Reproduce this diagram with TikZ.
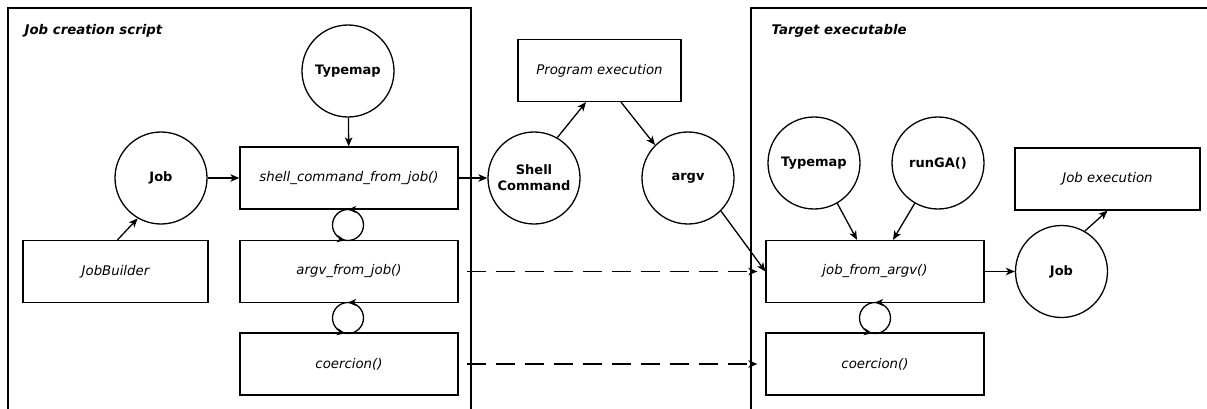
\documentclass[tikz,border=0pt]{standalone}
\usepackage{fontspec}
\setmainfont{DejaVu Sans}
\usetikzlibrary{arrows.meta,decorations.markings}
\begin{document}
\begin{tikzpicture}[x=1pt,y=-1pt,
  line width=1.3pt,
  tip/.style={-{Stealth[length=9pt,width=7.5pt,inset=2.5pt]}},
  fn/.style={draw,rectangle,minimum width=218pt,minimum height=62pt,inner sep=0pt,font=\fontsize{13.3}{15}\selectfont\itshape},
  obj/.style={draw,circle,minimum size=92pt,inner sep=0pt,align=center,font=\fontsize{13}{16}\selectfont\bfseries},
  ttl/.style={anchor=west,inner sep=0pt,font=\fontsize{13.3}{15}\selectfont\bfseries\itshape},
  dashline/.style={dash pattern=on 19pt off 10pt},
  loopc/.style={draw,circle,minimum size=31pt,inner sep=0pt,
    postaction={decorate,decoration={markings,
      mark=at position 0.25 with {\arrow{Stealth[length=8pt,width=7pt,inset=2pt]}},
      mark=at position 0.72 with {\arrow{Stealth[length=8pt,width=7pt,inset=2pt]}}}}}
]
\useasboundingbox (0,0) rectangle (1207,409);
% containers
\draw (8,409) -- (8,8) -- (471,8) -- (471,409);
\draw (751,409) -- (751,8) -- (1207,8);
\node[ttl] (t1) at (24,31) {Job creation script};
\node[ttl] (t2) at (771,31) {Target executable};
% left side
\node[obj] (tm1) at (348,71) {Typemap};
\node[fn] (shell) at (349,178) {shell\_command\_from\_job()};
\node[obj] (job1) at (161,178) {Job};
\node[fn,minimum width=185pt] (jb) at (115.5,271.5) {JobBuilder};
\node[fn] (afj) at (349,271.5) {argv\_from\_job()};
\node[fn] (co1) at (349,364) {coercion()};
\node[loopc] (l1) at (348,225) {};
\node[loopc] (l2) at (348,318) {};
\draw[tip] (tm1) -- (shell);
\draw[tip] (job1.east) -- (shell.west |- job1.east);
\draw[tip] (jb.north) ++(2,0) coordinate (jbn) -- (job1.-120);
% middle
\node[obj] (sc) at (534,178) {Shell\\Command};
\node[fn,minimum width=163pt] (pe) at (599.5,70.5) {Program execution};
\node[obj] (argv) at (688,178) {argv};
\draw[tip] (shell.east) -- (sc.west);
\draw[tip] (sc.60) -- (pe.south -| 586,0);
\draw[tip] (pe.south -| 621,0) -- (argv.135);
% right side
\node[obj] (tm2) at (814,163) {Typemap};
\node[obj] (ga) at (938,163) {runGA()};
\node[fn] (jfa) at (875,271.5) {job\_from\_argv()};
\node[fn] (co2) at (875,364) {coercion()};
\node[obj] (job2) at (1061.5,271.5) {Job};
\node[fn,minimum width=185pt] (je) at (1107.5,179) {Job execution};
\node[loopc] (l3) at (875,318) {};
\draw[tip] (tm2.-60) -- (jfa.north -| 857,0);
\draw[tip] (ga.-120) -- (jfa.north -| 893,0);
\draw[tip] (argv.-45) -- (jfa.west);
\draw[tip] (jfa.east) -- (job2.west);
\draw[tip] (job2.60) -- (je.south);
% dashed
\draw[tip,dashline] (afj.east) ++(8,0) -- ([xshift=-8pt]jfa.west);
\draw[tip,dashline] (co1.east) ++(8,0) -- ([xshift=-8pt]co2.west);
\end{tikzpicture}
\end{document}
